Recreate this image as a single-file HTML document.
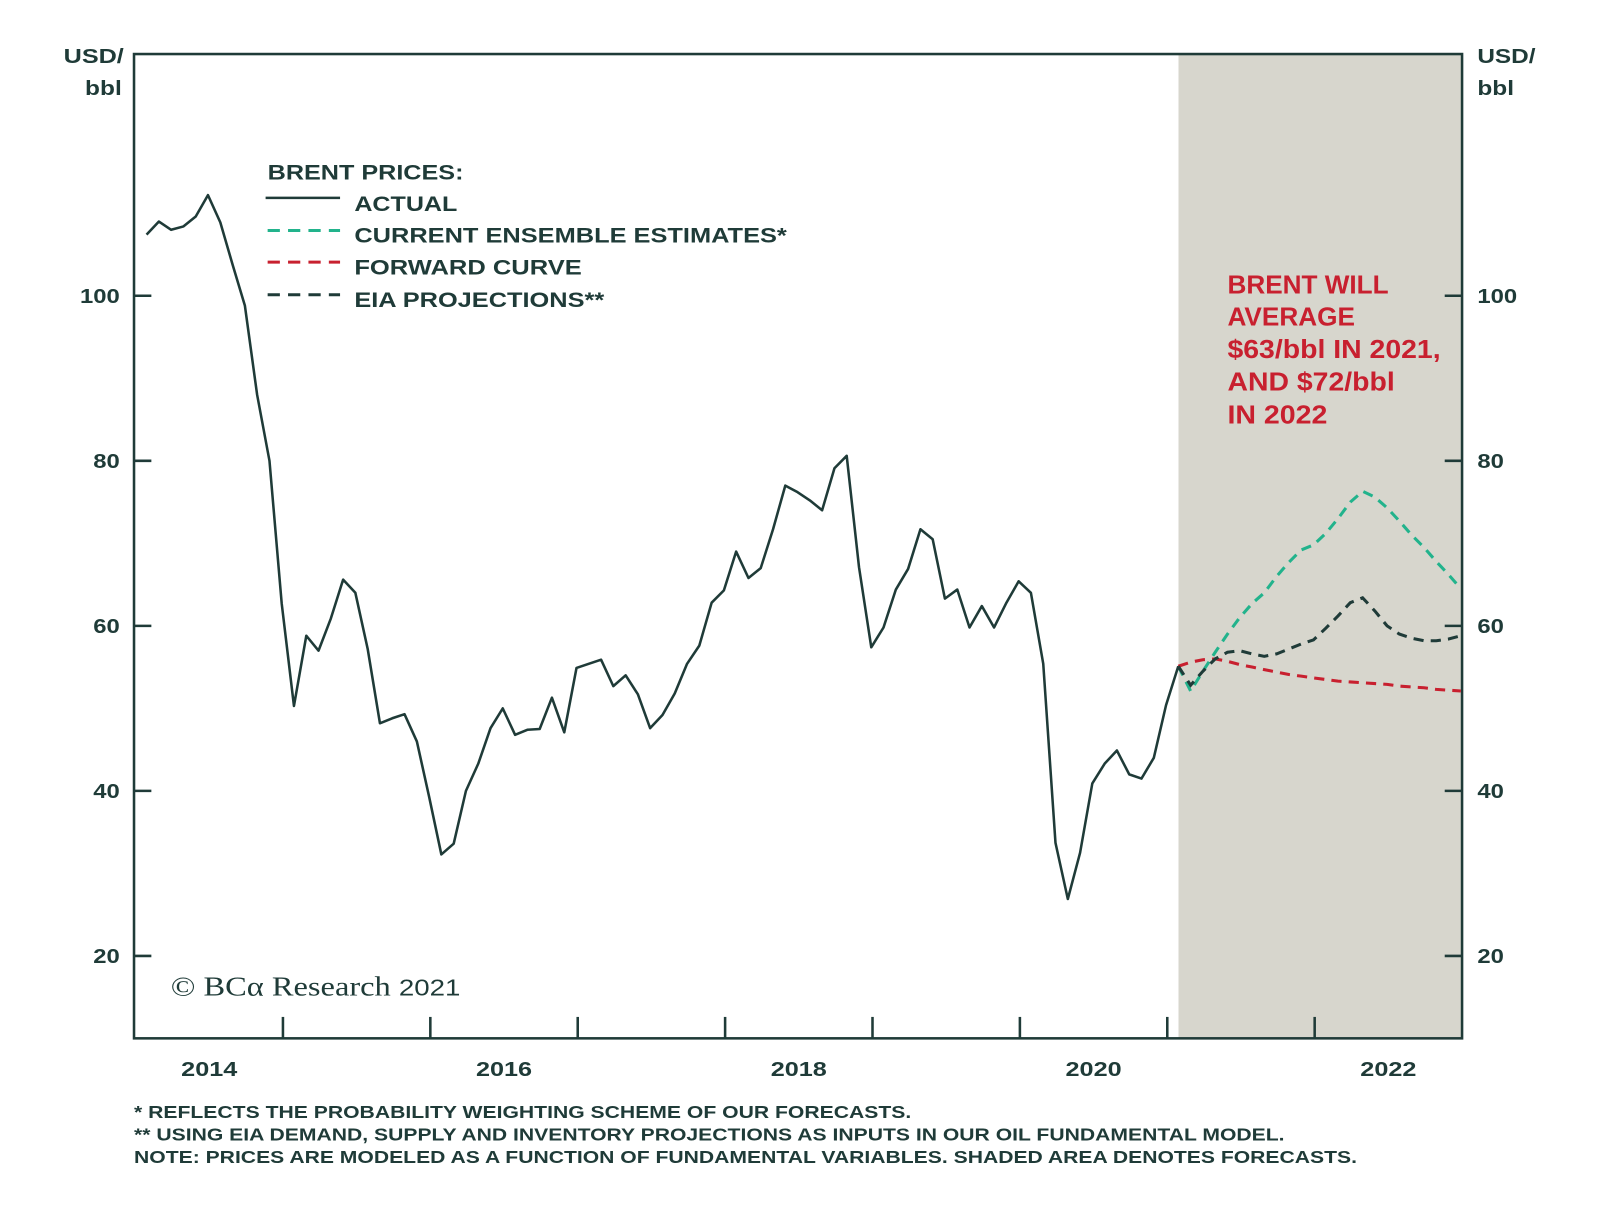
<!DOCTYPE html>
<html><head><meta charset="utf-8"><style>
html,body{margin:0;padding:0;background:#fff}
svg{display:block}
text{font-family:"Liberation Sans",Arial,sans-serif;font-weight:bold;fill:#1f3b38}
</style></head><body>
<svg id="chart" width="1600" height="1209" viewBox="0 0 1600 1209">
<g transform="translate(0.4,1) scale(1.02)">
<rect x="1155" y="52" width="278" height="965" fill="#d7d6cd"/>
<g id="axes"></g>
<g id="series"></g>
<text x="62" y="61" font-size="20" textLength="59" lengthAdjust="spacingAndGlyphs">USD/</text>
<text x="83" y="92" font-size="20" textLength="36" lengthAdjust="spacingAndGlyphs">bbl</text>
<text x="1448" y="61" font-size="20" textLength="57" lengthAdjust="spacingAndGlyphs">USD/</text>
<text x="1448" y="92" font-size="20" textLength="36" lengthAdjust="spacingAndGlyphs">bbl</text>
<g>
<text x="262" y="175" font-size="21" textLength="192" lengthAdjust="spacingAndGlyphs">BRENT PRICES:</text>
<line x1="260" y1="193" x2="333" y2="193" stroke="#1f3b38" stroke-width="2.5"/>
<text x="347" y="206" font-size="21" textLength="101" lengthAdjust="spacingAndGlyphs">ACTUAL</text>
<line x1="262" y1="225" x2="333" y2="225" stroke="#22b38c" stroke-width="3" stroke-dasharray="12,8"/>
<text x="347" y="237" font-size="21" textLength="424" lengthAdjust="spacingAndGlyphs">CURRENT ENSEMBLE ESTIMATES*</text>
<line x1="262" y1="256" x2="333" y2="256" stroke="#c8202f" stroke-width="3" stroke-dasharray="12,8"/>
<text x="347" y="268" font-size="21" textLength="223" lengthAdjust="spacingAndGlyphs">FORWARD CURVE</text>
<line x1="262" y1="288" x2="333" y2="288" stroke="#1f3b38" stroke-width="3" stroke-dasharray="12,8"/>
<text x="347" y="300" font-size="21" textLength="245" lengthAdjust="spacingAndGlyphs">EIA PROJECTIONS**</text>
</g>
<g>
<text x="1203" y="287" style="fill:#c8202f;font-size:25px" textLength="158" lengthAdjust="spacingAndGlyphs">BRENT WILL</text>
<text x="1203" y="318" style="fill:#c8202f;font-size:25px" textLength="125" lengthAdjust="spacingAndGlyphs">AVERAGE</text>
<text x="1203" y="350" style="fill:#c8202f;font-size:25px" textLength="209" lengthAdjust="spacingAndGlyphs">$63/bbl IN 2021,</text>
<text x="1203" y="382" style="fill:#c8202f;font-size:25px" textLength="164" lengthAdjust="spacingAndGlyphs">AND $72/bbl</text>
<text x="1203" y="414" style="fill:#c8202f;font-size:25px" textLength="98" lengthAdjust="spacingAndGlyphs">IN 2022</text>
</g>
<text x="167" y="975" textLength="284" lengthAdjust="spacingAndGlyphs" style="font-family:'Liberation Serif',serif;font-weight:normal;font-size:27px;fill:#1f3b38">© BCα Research <tspan style="font-family:'Liberation Sans',sans-serif;font-size:23px">2021</tspan></text>
<g>
<text x="131" y="1095" style="font-size:17.5px" textLength="762" lengthAdjust="spacingAndGlyphs">*  REFLECTS THE PROBABILITY WEIGHTING SCHEME OF OUR FORECASTS.</text>
<text x="131" y="1117" style="font-size:17.5px" textLength="1128" lengthAdjust="spacingAndGlyphs">** USING EIA DEMAND, SUPPLY AND INVENTORY PROJECTIONS AS INPUTS IN OUR OIL FUNDAMENTAL MODEL.</text>
<text x="131" y="1139" style="font-size:17.5px" textLength="1199" lengthAdjust="spacingAndGlyphs">NOTE: PRICES ARE MODELED AS A FUNCTION OF FUNDAMENTAL VARIABLES. SHADED AREA DENOTES FORECASTS.</text>
</g>
</g>
</svg>
<script>
const actual = [107.4,109,108,108.4,109.6,112.2,108.9,103.8,98.8,88,80,62.7,50.3,58.8,57,60.9,65.6,64,57.2,48.2,48.8,49.3,46,39.3,32.3,33.6,40,43.3,47.6,50,46.8,47.4,47.5,51.3,47.1,54.9,55.4,55.9,52.7,54,51.7,47.6,49.2,51.8,55.4,57.6,62.8,64.3,69,65.8,67,71.7,77,76.2,75.2,74,79.1,80.6,67.1,57.4,59.8,64.4,66.9,71.7,70.5,63.3,64.4,59.8,62.4,59.8,62.8,65.4,64,55.4,33.7,26.9,32.5,40.9,43.3,44.9,42,41.5,44,50.4,55.1];
const ensemble = [55.1,52.1,54.5,56.8,59,61,62.7,64,66,67.7,69.2,69.8,71.2,73,75,76.3,75.6,74.3,72.7,71,69.5,67.8,66.2,64.5];
const forward = [55.1,55.6,55.9,56,55.7,55.3,55,54.7,54.4,54.1,53.9,53.7,53.5,53.3,53.2,53.1,53,52.9,52.7,52.6,52.5,52.3,52.2,52.1];
const eia = [55.1,52.8,54.5,56,56.8,57,56.6,56.3,56.6,57.2,57.8,58.3,59.7,61.2,62.8,63.4,61.8,60,59,58.5,58.2,58.2,58.4,58.8];
const yTicks = [20,40,60,80,100];
const yearLabels = [2014,2016,2018,2020,2022];
const yearTicks = [2015,2016,2017,2018,2019,2020,2021,2022];

const X0=132.5, PX_YR=144.5, L=131, R=1433, T=52, B=1017;
const xs = t => X0 + (t-2014)*PX_YR;
const ys = v => 289 + (100-v)*8.09;
const monthT = i => 2014 + (i+0.9)/12;
const NS='http://www.w3.org/2000/svg';
const axes=document.getElementById('axes'), series=document.getElementById('series');
function mk(tag,attrs,parent){const e=document.createElementNS(NS,tag);for(const k in attrs)e.setAttribute(k,attrs[k]);parent.appendChild(e);return e;}

let e=mk('rect',{x:L,y:T,width:R-L,height:B-T,fill:'none',stroke:'#1f3b38','stroke-width':2.5},axes);


yTicks.forEach(v=>{
  const w = String(v).length*13;
  let t=mk('line',{x1:L,x2:L+17,y1:ys(v),y2:ys(v),stroke:'#1f3b38','stroke-width':2.5},axes);
  
  
  t=mk('line',{x1:R-17,x2:R,y1:ys(v),y2:ys(v),stroke:'#1f3b38','stroke-width':2.5},axes);
  
  
  let l=mk('text',{x:117-w,y:ys(v)+7,'font-size':20,textLength:w,lengthAdjust:'spacingAndGlyphs'},axes);l.textContent=v;
  
  
  l=mk('text',{x:1448,y:ys(v)+7,'font-size':20,textLength:w,lengthAdjust:'spacingAndGlyphs'},axes);l.textContent=v;
  
  
});
yearTicks.forEach(y=>{
  let t=mk('line',{x1:xs(y),x2:xs(y),y1:B,y2:B-21,stroke:'#1f3b38','stroke-width':2.5},axes);
  
  
});
yearLabels.forEach(y=>{
  let l=mk('text',{x:xs(y+0.5)-27.5,y:1054,'font-size':20,textLength:55,lengthAdjust:'spacingAndGlyphs'},axes);l.textContent=y;
  
  
});
function pts(arr,start){return arr.map((v,i)=>xs(monthT(start+i)).toFixed(1)+','+ys(v).toFixed(1)).join(' ');}
const startF = actual.length-1;
let p=mk('polyline',{points:pts(ensemble,startF),fill:'none',stroke:'#22b38c','stroke-width':3,'stroke-dasharray':'10,7'},series);


p=mk('polyline',{points:pts(forward,startF),fill:'none',stroke:'#c8202f','stroke-width':3,'stroke-dasharray':'10,7'},series);


p=mk('polyline',{points:pts(eia,startF),fill:'none',stroke:'#1f3b38','stroke-width':3,'stroke-dasharray':'10,7'},series);


p=mk('polyline',{points:pts(actual,0),fill:'none',stroke:'#1f3b38','stroke-width':2.5,'stroke-linejoin':'round'},series);


</script>
</body></html>
